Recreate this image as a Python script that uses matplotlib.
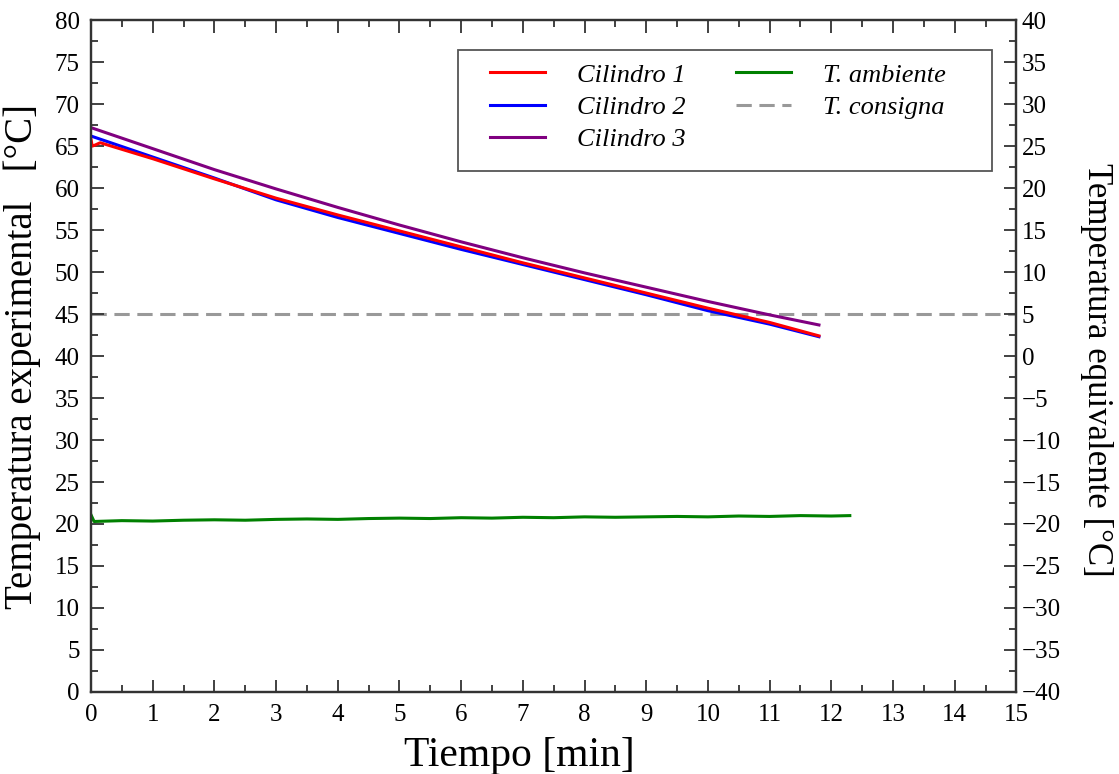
import matplotlib
matplotlib.use("Agg")
import matplotlib.pyplot as plt
from matplotlib.ticker import MultipleLocator
from matplotlib.patches import Rectangle

plt.rcParams['font.family'] = ['Liberation Serif', 'DejaVu Serif']

# Datos (tiempo en minutos, temperatura en °C)
t_cil1 = [0.0, 0.02, 0.06, 0.15, 1, 2, 3, 4, 5, 6, 7, 8, 9, 10, 11, 11.8]
T_cil1 = [65.8, 65.0, 65.1, 65.4, 63.5, 61.1, 58.8, 56.8, 54.9, 53.0, 51.1, 49.3, 47.5, 45.7, 44.0, 42.4]

t_cil2 = [0.0, 1, 2, 3, 4, 5, 6, 7, 8, 9, 10, 11, 11.8]
T_cil2 = [66.2, 63.7, 61.2, 58.6, 56.5, 54.6, 52.7, 50.9, 49.1, 47.3, 45.4, 43.8, 42.3]

t_cil3 = [0.0, 1, 2, 3, 4, 5, 6, 7, 8, 9, 10, 11, 11.8]
T_cil3 = [67.2, 64.7, 62.2, 59.9, 57.7, 55.6, 53.6, 51.7, 49.9, 48.2, 46.5, 44.9, 43.7]

t_amb = [0.0, 0.05, 0.5, 1, 1.5, 2, 2.5, 3, 3.5, 4, 4.5, 5, 5.5, 6, 6.5, 7, 7.5,
         8, 8.5, 9, 9.5, 10, 10.5, 11, 11.5, 12, 12.3]
T_amb = [21.1, 20.3, 20.4, 20.35, 20.45, 20.5, 20.45, 20.55, 20.6, 20.55, 20.65,
         20.7, 20.65, 20.75, 20.7, 20.8, 20.75, 20.85, 20.8, 20.85, 20.9, 20.85,
         20.95, 20.9, 21.0, 20.95, 21.0]

T_consigna = 45

fig = plt.figure(figsize=(11.19, 7.74), dpi=100)
ax = fig.add_axes([0.0813, 0.106, 0.827, 0.868])

ax.plot(t_cil2, T_cil2, color='#0000ff', lw=2.2, label='Cilindro 2', zorder=2)
ax.plot(t_cil3, T_cil3, color='#800080', lw=2.2, label='Cilindro 3', zorder=2)
ax.plot(t_amb, T_amb, color='#008000', lw=2.2, label='T. ambiente', zorder=2)
ax.axhline(T_consigna, color='#999999', lw=2.2, dashes=(5, 2.5), label='T. consigna', zorder=1)
ax.plot(t_cil1, T_cil1, color='#ff0000', lw=2.2, label='Cilindro 1', zorder=3)

ax.set_xlim(0, 15)
ax.set_ylim(0, 80)
ax.xaxis.set_major_locator(MultipleLocator(1))
ax.xaxis.set_minor_locator(MultipleLocator(0.5))
ax.yaxis.set_major_locator(MultipleLocator(5))
ax.yaxis.set_minor_locator(MultipleLocator(2.5))

ax2 = ax.twinx()
ax2.set_ylim(-40, 40)
ax2.yaxis.set_major_locator(MultipleLocator(5))
ax2.yaxis.set_minor_locator(MultipleLocator(2.5))

for a in (ax, ax2):
    for s in a.spines.values():
        s.set_color('#333333')
        s.set_linewidth(1.6)
    a.tick_params(which='both', direction='in', colors='#333333', labelcolor='black',
                  labelsize=18, width=1.3)
    a.tick_params(which='major', length=9)
    a.tick_params(which='minor', length=5)
ax.tick_params(which='both', top=True, right=False)
ax.tick_params(axis='x', pad=9)
ax.tick_params(axis='y', pad=8)
ax2.tick_params(axis='y', pad=4)

ax.set_xlabel('Tiempo [min]', fontsize=30)
ax.xaxis.set_label_coords(0.463, -0.066)
ax.set_ylabel('Temperatura experimental   [°C]', fontsize=28)
ax.yaxis.set_label_coords(-0.054, 0.5)
fig.text(0.980, 0.522, 'Temperatura equivalente [°C]', fontsize=25, rotation=270,
         ha='center', va='center')

# Leyenda: marco dibujado aparte
ax.add_patch(Rectangle((0.3968, 0.775), 0.5772, 0.18, transform=ax.transAxes,
                       facecolor='white', edgecolor='#555555', lw=1.3, zorder=4))
h, l = ax.get_legend_handles_labels()
orden = [4, 0, 1, 2, 3]
leg = ax.legend([h[i] for i in orden], [l[i] for i in orden],
                loc='upper left', bbox_to_anchor=(0.431, 0.936), ncol=2,
                prop={'style': 'italic', 'size': 19}, frameon=False,
                handlelength=2.1, handletextpad=1.2, columnspacing=1.9,
                labelspacing=0.33, borderpad=0, borderaxespad=0)
leg.set_zorder(5)

fig.savefig('out.png', dpi=100)
